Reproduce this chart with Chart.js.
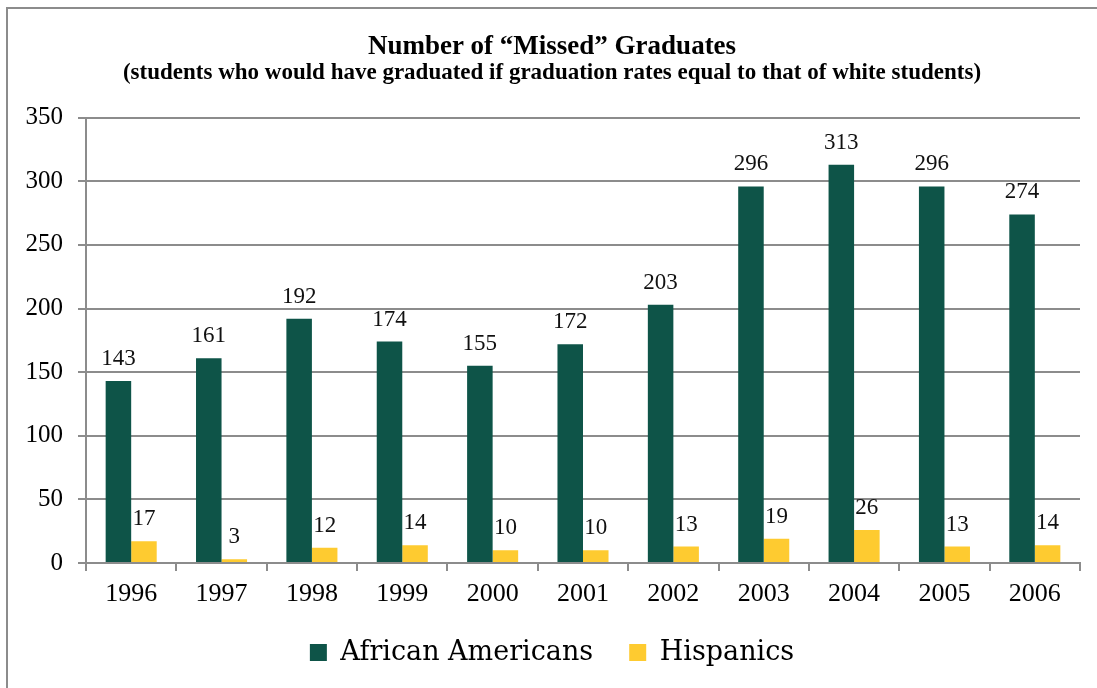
<!DOCTYPE html>
<html>
<head>
<meta charset="utf-8">
<script src="https://cdn.jsdelivr.net/npm/chart.js@4.4.1/dist/chart.umd.min.js"></script>
<style>
  html, body { margin: 0; padding: 0; background: #fff; overflow: hidden; }
  #frame {
    position: absolute; left: 6px; top: 7px; width: 1200px; height: 800px;
    border: 2px solid #8c8c8c; box-sizing: border-box;
  }
  #wrap { position: absolute; left: 0; top: 0; width: 1097px; height: 688px; }
</style>
</head>
<body>
<div id="frame"></div>
<div id="wrap"><canvas id="missedChart" width="1097" height="688"></canvas></div>
<script>
// Chart data
const years = ['1996', '1997', '1998', '1999', '2000', '2001', '2002', '2003', '2004', '2005', '2006'];
const africanAmericans = [143, 161, 192, 174, 155, 172, 203, 296, 313, 296, 274];
const hispanics = [17, 3, 12, 14, 10, 10, 13, 19, 26, 13, 14];
const yTicks = [0, 50, 100, 150, 200, 250, 300, 350];

const SERIF = "'Liberation Serif', 'Times New Roman', serif";
const GRID = '#8c8c8c';

// Draws the value above every bar
const valueLabels = {
    id: 'valueLabels',
    afterDatasetsDraw(chart) {
        const ctx = chart.ctx;
        ctx.save();
        ctx.font = '23px ' + SERIF;
        ctx.fillStyle = '#111';
        ctx.textAlign = 'center';
        ctx.textBaseline = 'middle';
        chart.data.datasets.forEach((ds, i) => {
            chart.getDatasetMeta(i).data.forEach((bar, j) => {
                ctx.fillText(ds.data[j], bar.x, bar.y - 22);
            });
        });
        ctx.restore();
    }
};

const ctx = document.getElementById('missedChart').getContext('2d');
new Chart(ctx, {
    type: 'bar',
    data: {
        labels: years,
        datasets: [
            {
                label: 'African Americans',
                data: africanAmericans,
                backgroundColor: '#0e5448',
                borderWidth: 0,
                categoryPercentage: 0.565,
                barPercentage: 1.0
            },
            {
                label: 'Hispanics',
                data: hispanics,
                backgroundColor: '#fecb30',
                borderWidth: 0,
                categoryPercentage: 0.565,
                barPercentage: 1.0
            }
        ]
    },
    options: {
        responsive: false,
        animation: false,
        // left padding nudges the title/legend centre to the right, like the original
        layout: { padding: { left: 24, right: 17, top: 0, bottom: 12 } },
        plugins: {
            title: {
                display: true,
                text: 'Number of \u201CMissed\u201D Graduates',
                color: '#000',
                font: { family: SERIF, size: 27, weight: 'bold', lineHeight: 1.1 },
                padding: { top: 32, bottom: 0 }
            },
            subtitle: {
                display: true,
                text: '(students who would have graduated if graduation rates equal to that of white students)',
                color: '#000',
                font: { family: SERIF, size: 23, weight: 'bold', lineHeight: 1.0 },
                padding: { top: 0, bottom: 33 }
            },
            legend: {
                position: 'bottom',
                labels: {
                    color: '#000',
                    boxWidth: 17,
                    boxHeight: 17,
                    padding: 36,
                    font: { family: "'DejaVu Serif', serif", size: 27, lineHeight: 1.0 }
                }
            },
            tooltip: { enabled: false }
        },
        scales: {
            x: {
                offset: true,
                afterFit: (scale) => { scale.height = 40; },
                grid: {
                    offset: true,
                    drawOnChartArea: false,
                    drawTicks: true,
                    tickLength: 8,
                    color: GRID,
                    lineWidth: 2
                },
                border: { color: GRID, width: 2 },
                ticks: {
                    color: '#000',
                    padding: 8,
                    font: { family: SERIF, size: 26 }
                }
            },
            y: {
                min: 0,
                max: 350,
                afterFit: (scale) => { scale.width = 62; },
                afterBuildTicks: (scale) => { scale.ticks = yTicks.map(v => ({ value: v })); },
                grid: {
                    color: GRID,
                    lineWidth: 2,
                    tickLength: 8
                },
                border: { color: GRID, width: 2 },
                ticks: {
                    color: '#000',
                    padding: 15,
                    font: { family: SERIF, size: 25 }
                }
            }
        }
    },
    plugins: [valueLabels]
});
</script>
</body>
</html>
